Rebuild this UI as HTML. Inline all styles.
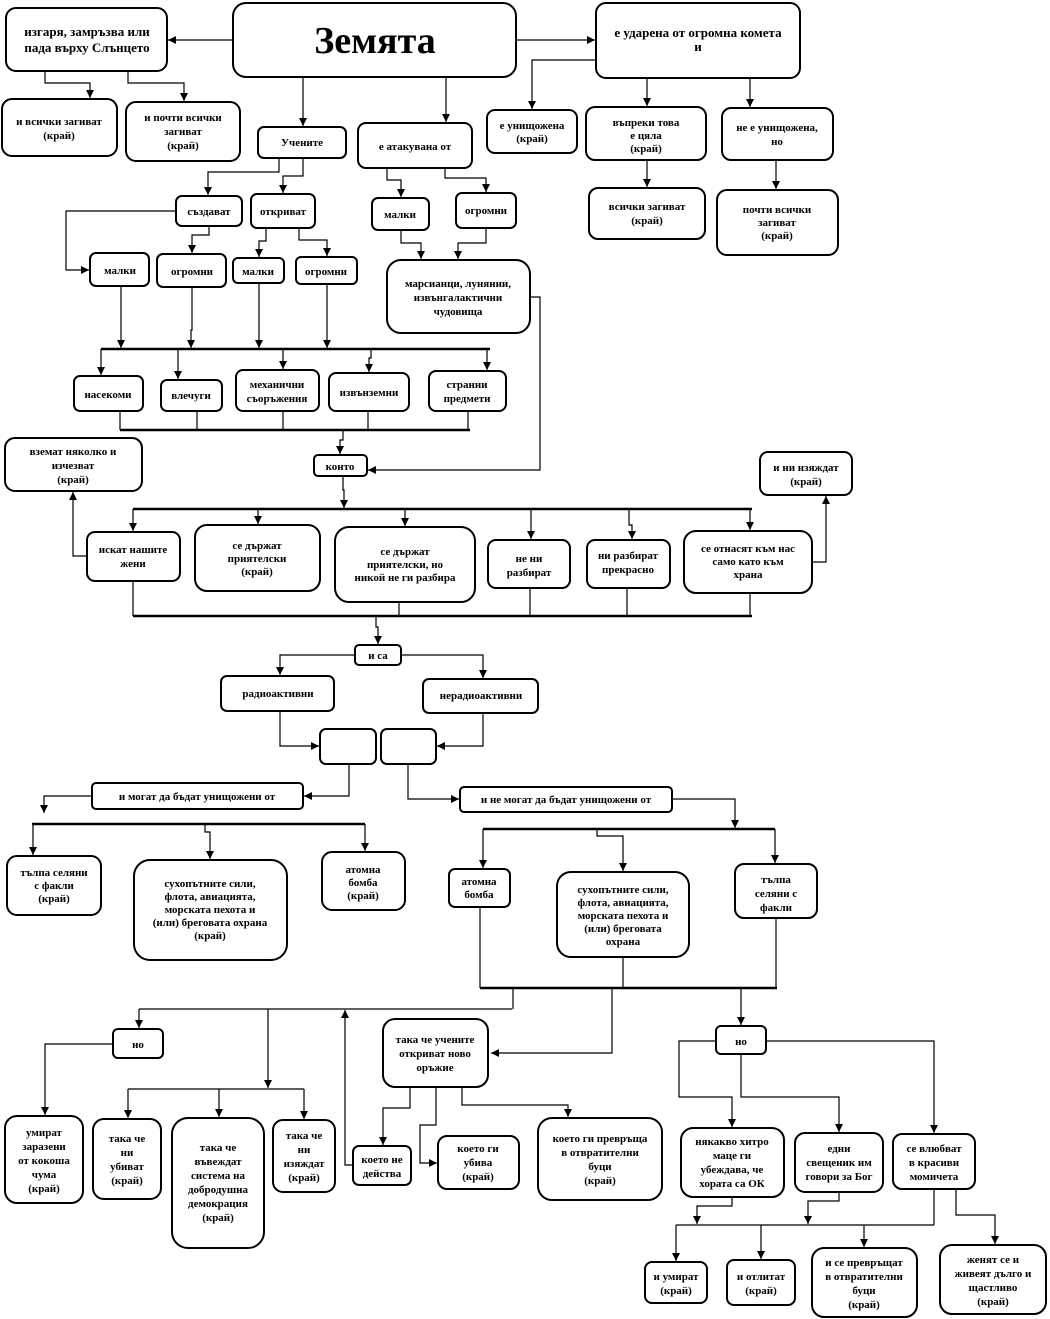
<!DOCTYPE html>
<html><head><meta charset="utf-8"><style>
html,body{margin:0;padding:0;background:#fff}
svg{display:block}
text{font-family:"Liberation Serif",serif;font-weight:bold;font-size:11px;text-anchor:middle;fill:#000}
.b{fill:#fff;stroke:#000;stroke-width:2}
.l{fill:none;stroke:#000;stroke-width:1.2}
.t{fill:none;stroke:#000;stroke-width:2.5}
</style></head><body>
<svg width="1050" height="1319" viewBox="0 0 1050 1319" xmlns="http://www.w3.org/2000/svg">
<defs><marker id="a" viewBox="0 0 10 10" refX="10" refY="5" markerWidth="8" markerHeight="8" markerUnits="userSpaceOnUse" orient="auto"><path d="M0,0L10,5L0,10z" fill="#000"/></marker></defs>
<g class="l" marker-end="url(#a)">
<path d="M233,40H168"/><path d="M516,40H595"/>
<path d="M45,71V83H90V98"/><path d="M128,71V83H184V101"/>
<path d="M303,77V126"/><path d="M446,77V122"/>
<path d="M596,60H532V109"/><path d="M647,78V106"/><path d="M750,78V107"/>
<path d="M647,160V187"/><path d="M776,160V189"/>
<path d="M279,158V172H208V195"/><path d="M303,158V176H283V193"/>
<path d="M176,211H66V270H89"/><path d="M209,226V235H192V253"/>
<path d="M266,228V241H259V257"/><path d="M299,228V240H327V256"/>
<path d="M387,168V180H401V197"/><path d="M445,168V178H486V192"/>
<path d="M401,230V243H421V259"/><path d="M486,228V243H458V259"/>
<path d="M121,286V348"/><path d="M192,287V330H191V348"/><path d="M259,283V348"/><path d="M327,284V348"/>
<path d="M101,349V375"/><path d="M178,349V379"/><path d="M283,349V369"/><path d="M371,349V358H369V372"/><path d="M487,349V370"/>
<path d="M530,297H540V470H368"/>
<path d="M343,430V440H340V454"/>
<path d="M343,476V490H344V508"/>
<path d="M133,509V531"/><path d="M258,509V524"/><path d="M405,509V526"/><path d="M531,509V539"/><path d="M629,509V525H632V539"/><path d="M750,509V530"/>
<path d="M87,556H73V492"/><path d="M812,562H826V496"/>
<path d="M376,616V627H378V644"/>
<path d="M355,655H280V675"/><path d="M401,655H483V678"/>
<path d="M280,711V746H319"/><path d="M483,713V746H437"/>
<path d="M349,764V796H304"/><path d="M408,764V799H459"/>
<path d="M92,796H44V813"/><path d="M672,799H735V828"/>
<path d="M33,824V855"/><path d="M205,824V832H210V859"/><path d="M365,824V851"/>
<path d="M483,829V868"/><path d="M597,829V836H623V871"/><path d="M775,829V863"/>
<path d="M741,988V1025"/>
<path d="M139,1009V1028"/><path d="M268,1009V1088"/>
<path d="M163,1044H45V1115"/>
<path d="M128,1089V1118"/><path d="M219,1089V1117"/><path d="M304,1089V1119"/>
<path d="M353,1165H345V1010"/>
<path d="M612,988V1053H491"/>
<path d="M410,1087V1108H383V1145"/><path d="M436,1087V1125H420V1163H437"/><path d="M462,1087V1105H568V1117"/>
<path d="M716,1041H679V1097H732V1127"/><path d="M741,1054V1097H839V1132"/><path d="M766,1041H934V1133"/>
<path d="M732,1197V1206H697V1224"/><path d="M839,1192V1201H808V1224"/>
<path d="M956,1189V1215H995V1244"/>
<path d="M676,1225V1261"/><path d="M761,1225V1259"/><path d="M864,1225V1247"/>
</g>
<g class="l">
<path d="M120,411V430"/><path d="M197,411V430"/><path d="M283,411V430"/><path d="M368,411V430"/><path d="M468,411V430"/>
<path d="M133,581V616"/><path d="M399,602V616"/><path d="M530,588V616"/><path d="M627,588V616"/><path d="M750,593V616"/>
<path d="M480,907V988"/><path d="M623,957V988"/><path d="M776,918V988"/>
<path d="M513,988V1009"/>
<path d="M934,1189V1225"/>
</g>
<g class="t">
<path d="M101,349H490"/><path d="M120,430H470"/>
<path d="M133,509H752"/><path d="M133,616H752"/>
<path d="M32,824H365"/><path d="M483,829H775"/>
<path d="M480,988H777"/>
</g>
<path class="l" d="M139,1009H512"/><path class="l" d="M128,1089H304"/><path class="l" d="M676,1225H934"/>
<g class="b">
<rect x="233" y="3" width="283" height="74" rx="13"/>
<rect x="6" y="8" width="161" height="63" rx="10"/>
<rect x="596" y="3" width="204" height="75" rx="10"/>
<rect x="2" y="99" width="115" height="57" rx="10"/>
<rect x="126" y="102" width="114" height="59" rx="10"/>
<rect x="258" y="127" width="88" height="31" rx="6"/>
<rect x="358" y="123" width="114" height="45" rx="8"/>
<rect x="487" y="110" width="90" height="43" rx="8"/>
<rect x="586" y="107" width="120" height="53" rx="9"/>
<rect x="722" y="108" width="111" height="52" rx="9"/>
<rect x="589" y="188" width="116" height="51" rx="9"/>
<rect x="717" y="190" width="121" height="65" rx="10"/>
<rect x="176" y="196" width="66" height="30" rx="6"/>
<rect x="251" y="194" width="64" height="34" rx="6"/>
<rect x="372" y="198" width="57" height="32" rx="6"/>
<rect x="456" y="193" width="60" height="35" rx="6"/>
<rect x="90" y="253" width="59" height="33" rx="6"/>
<rect x="157" y="254" width="69" height="33" rx="6"/>
<rect x="233" y="258" width="51" height="25" rx="5"/>
<rect x="296" y="257" width="61" height="27" rx="5"/>
<rect x="387" y="260" width="143" height="73" rx="14"/>
<rect x="74" y="376" width="69" height="35" rx="6"/>
<rect x="161" y="380" width="61" height="31" rx="6"/>
<rect x="236" y="370" width="83" height="41" rx="7"/>
<rect x="329" y="373" width="80" height="38" rx="7"/>
<rect x="429" y="371" width="77" height="40" rx="7"/>
<rect x="5" y="438" width="137" height="53" rx="10"/>
<rect x="314" y="455" width="53" height="21" rx="4"/>
<rect x="760" y="452" width="92" height="43" rx="8"/>
<rect x="87" y="532" width="93" height="49" rx="8"/>
<rect x="195" y="525" width="125" height="66" rx="12"/>
<rect x="335" y="527" width="140" height="75" rx="14"/>
<rect x="488" y="540" width="82" height="48" rx="8"/>
<rect x="587" y="540" width="83" height="48" rx="8"/>
<rect x="684" y="531" width="128" height="62" rx="12"/>
<rect x="355" y="645" width="46" height="20" rx="4"/>
<rect x="221" y="676" width="113" height="35" rx="6"/>
<rect x="423" y="679" width="115" height="34" rx="6"/>
<rect x="320" y="729" width="56" height="35" rx="6"/>
<rect x="381" y="729" width="55" height="35" rx="6"/>
<rect x="92" y="783" width="211" height="26" rx="4"/>
<rect x="460" y="787" width="212" height="25" rx="4"/>
<rect x="7" y="856" width="94" height="59" rx="10"/>
<rect x="134" y="860" width="153" height="100" rx="16"/>
<rect x="322" y="852" width="83" height="58" rx="10"/>
<rect x="449" y="869" width="61" height="38" rx="6"/>
<rect x="557" y="872" width="132" height="85" rx="14"/>
<rect x="735" y="864" width="82" height="54" rx="9"/>
<rect x="113" y="1029" width="50" height="29" rx="5"/>
<rect x="5" y="1116" width="78" height="87" rx="12"/>
<rect x="93" y="1119" width="68" height="80" rx="11"/>
<rect x="172" y="1118" width="92" height="130" rx="16"/>
<rect x="273" y="1120" width="62" height="72" rx="10"/>
<rect x="383" y="1019" width="105" height="68" rx="12"/>
<rect x="353" y="1146" width="58" height="39" rx="6"/>
<rect x="438" y="1136" width="81" height="53" rx="9"/>
<rect x="538" y="1118" width="124" height="82" rx="14"/>
<rect x="716" y="1026" width="50" height="28" rx="5"/>
<rect x="681" y="1128" width="103" height="69" rx="12"/>
<rect x="795" y="1133" width="88" height="59" rx="10"/>
<rect x="893" y="1134" width="82" height="55" rx="9"/>
<rect x="645" y="1262" width="62" height="41" rx="7"/>
<rect x="727" y="1260" width="68" height="45" rx="7"/>
<rect x="812" y="1248" width="105" height="69" rx="12"/>
<rect x="940" y="1245" width="106" height="69" rx="12"/>
</g>
<text x="375" y="53" style="font-size:38px">Земята</text>
<text x="87" y="36" style="font-size:13px">изгаря, замръзва или<tspan x="87" dy="16">пада върху Слънцето</tspan></text>
<text x="698" y="37" style="font-size:13px">е ударена от огромна комета<tspan x="698" dy="14">и</tspan></text>
<text x="59" y="125">и всички загиват<tspan x="59" dy="14">(край)</tspan></text>
<text x="183" y="121">и почти всички<tspan x="183" dy="14">загиват</tspan><tspan x="183" dy="14">(край)</tspan></text>
<text x="302" y="146">Учените</text>
<text x="415" y="150">е атакувана   от</text>
<text x="532" y="129">е унищожена<tspan x="532" dy="13">(край)</tspan></text>
<text x="646" y="126">въпреки това<tspan x="646" dy="13">е цяла</tspan><tspan x="646" dy="13">(край)</tspan></text>
<text x="777" y="131">не е унищожена,<tspan x="777" dy="14">но</tspan></text>
<text x="647" y="210">всички загиват<tspan x="647" dy="14">(край)</tspan></text>
<text x="777" y="213">почти всички<tspan x="777" dy="13">загиват</tspan><tspan x="777" dy="13">(край)</tspan></text>
<text x="209" y="215">създават</text>
<text x="283" y="215">откриват</text>
<text x="400" y="218">малки</text>
<text x="486" y="214">огромни</text>
<text x="120" y="274">малки</text>
<text x="192" y="275">огромни</text>
<text x="258" y="275">малки</text>
<text x="326" y="275">огромни</text>
<text x="458" y="287">марсианци, лунянии,<tspan x="458" dy="14">извънгалактични</tspan><tspan x="458" dy="14">чудовища</tspan></text>
<text x="108" y="398">насекоми</text>
<text x="191" y="399">влечуги</text>
<text x="277" y="388">механични<tspan x="277" dy="14">съоръжения</tspan></text>
<text x="369" y="396">извънземни</text>
<text x="467" y="388">странни<tspan x="467" dy="14">предмети</tspan></text>
<text x="73" y="455">вземат няколко и<tspan x="73" dy="14">изчезват</tspan><tspan x="73" dy="14">(край)</tspan></text>
<text x="340" y="470">конто</text>
<text x="806" y="471">и ни изяждат<tspan x="806" dy="14">(край)</tspan></text>
<text x="133" y="553">искат нашите<tspan x="133" dy="14">жени</tspan></text>
<text x="257" y="549">се държат<tspan x="257" dy="13">приятелски</tspan><tspan x="257" dy="13">(край)</tspan></text>
<text x="405" y="555">се държат<tspan x="405" dy="13">приятелски, но</tspan><tspan x="405" dy="13">никой не ги разбира</tspan></text>
<text x="529" y="562">не ни<tspan x="529" dy="14">разбират</tspan></text>
<text x="628" y="559">ни разбират<tspan x="628" dy="14">прекрасно</tspan></text>
<text x="748" y="552">се отнасят към нас<tspan x="748" dy="13">само като към</tspan><tspan x="748" dy="13">храна</tspan></text>
<text x="378" y="659">и са</text>
<text x="278" y="697">радиоактивни</text>
<text x="481" y="699">нерадиоактивни</text>
<text x="197" y="800">и могат да бъдат унищожени от</text>
<text x="566" y="803">и не могат да бъдат унищожени от</text>
<text x="54" y="876">тълпа селяни<tspan x="54" dy="13">с факли</tspan><tspan x="54" dy="13">(край)</tspan></text>
<text x="210" y="887">сухопътните сили,<tspan x="210" dy="13">флота, авиацията,</tspan><tspan x="210" dy="13">морската пехота и</tspan><tspan x="210" dy="13">(или) бреговата охрана</tspan><tspan x="210" dy="13">(край)</tspan></text>
<text x="363" y="873">атомна<tspan x="363" dy="13">бомба</tspan><tspan x="363" dy="13">(край)</tspan></text>
<text x="479" y="885">атомна<tspan x="479" dy="13">бомба</tspan></text>
<text x="623" y="893">сухопътните сили,<tspan x="623" dy="13">флота, авиацията,</tspan><tspan x="623" dy="13">морската пехота и</tspan><tspan x="623" dy="13">(или) бреговата</tspan><tspan x="623" dy="13">охрана</tspan></text>
<text x="776" y="883">тълпа<tspan x="776" dy="14">селяни с</tspan><tspan x="776" dy="14">факли</tspan></text>
<text x="138" y="1048">но</text>
<text x="44" y="1136">умират<tspan x="44" dy="14">заразени</tspan><tspan x="44" dy="14">от кокоша</tspan><tspan x="44" dy="14">чума</tspan><tspan x="44" dy="14">(край)</tspan></text>
<text x="127" y="1142">така че<tspan x="127" dy="14">ни</tspan><tspan x="127" dy="14">убиват</tspan><tspan x="127" dy="14">(край)</tspan></text>
<text x="218" y="1151">така че<tspan x="218" dy="14">въвеждат</tspan><tspan x="218" dy="14">система на</tspan><tspan x="218" dy="14">добродушна</tspan><tspan x="218" dy="14">демокрация</tspan><tspan x="218" dy="14">(край)</tspan></text>
<text x="304" y="1139">така че<tspan x="304" dy="14">ни</tspan><tspan x="304" dy="14">изяждат</tspan><tspan x="304" dy="14">(край)</tspan></text>
<text x="435" y="1043">така че учените<tspan x="435" dy="14">откриват ново</tspan><tspan x="435" dy="14">оръжие</tspan></text>
<text x="382" y="1163">което не<tspan x="382" dy="14">действа</tspan></text>
<text x="478" y="1152">което ги<tspan x="478" dy="14">убива</tspan><tspan x="478" dy="14">(край)</tspan></text>
<text x="600" y="1142">което ги превръща<tspan x="600" dy="14">в отвратителни</tspan><tspan x="600" dy="14">буци</tspan><tspan x="600" dy="14">(край)</tspan></text>
<text x="741" y="1045">но</text>
<text x="732" y="1145">някакво хитро<tspan x="732" dy="14">маце ги</tspan><tspan x="732" dy="14">убеждава, че</tspan><tspan x="732" dy="14">хората са ОК</tspan></text>
<text x="839" y="1152">едни<tspan x="839" dy="14">свещеник им</tspan><tspan x="839" dy="14">говори за Бог</tspan></text>
<text x="934" y="1152">се влюбват<tspan x="934" dy="14">в красиви</tspan><tspan x="934" dy="14">момичета</tspan></text>
<text x="676" y="1280">и умират<tspan x="676" dy="14">(край)</tspan></text>
<text x="761" y="1280">и отлитат<tspan x="761" dy="14">(край)</tspan></text>
<text x="864" y="1266">и се превръщат<tspan x="864" dy="14">в отвратителни</tspan><tspan x="864" dy="14">буци</tspan><tspan x="864" dy="14">(край)</tspan></text>
<text x="993" y="1263">женят се и<tspan x="993" dy="14">живеят дълго и</tspan><tspan x="993" dy="14">щастливо</tspan><tspan x="993" dy="14">(край)</tspan></text>
</svg>
</body></html>
